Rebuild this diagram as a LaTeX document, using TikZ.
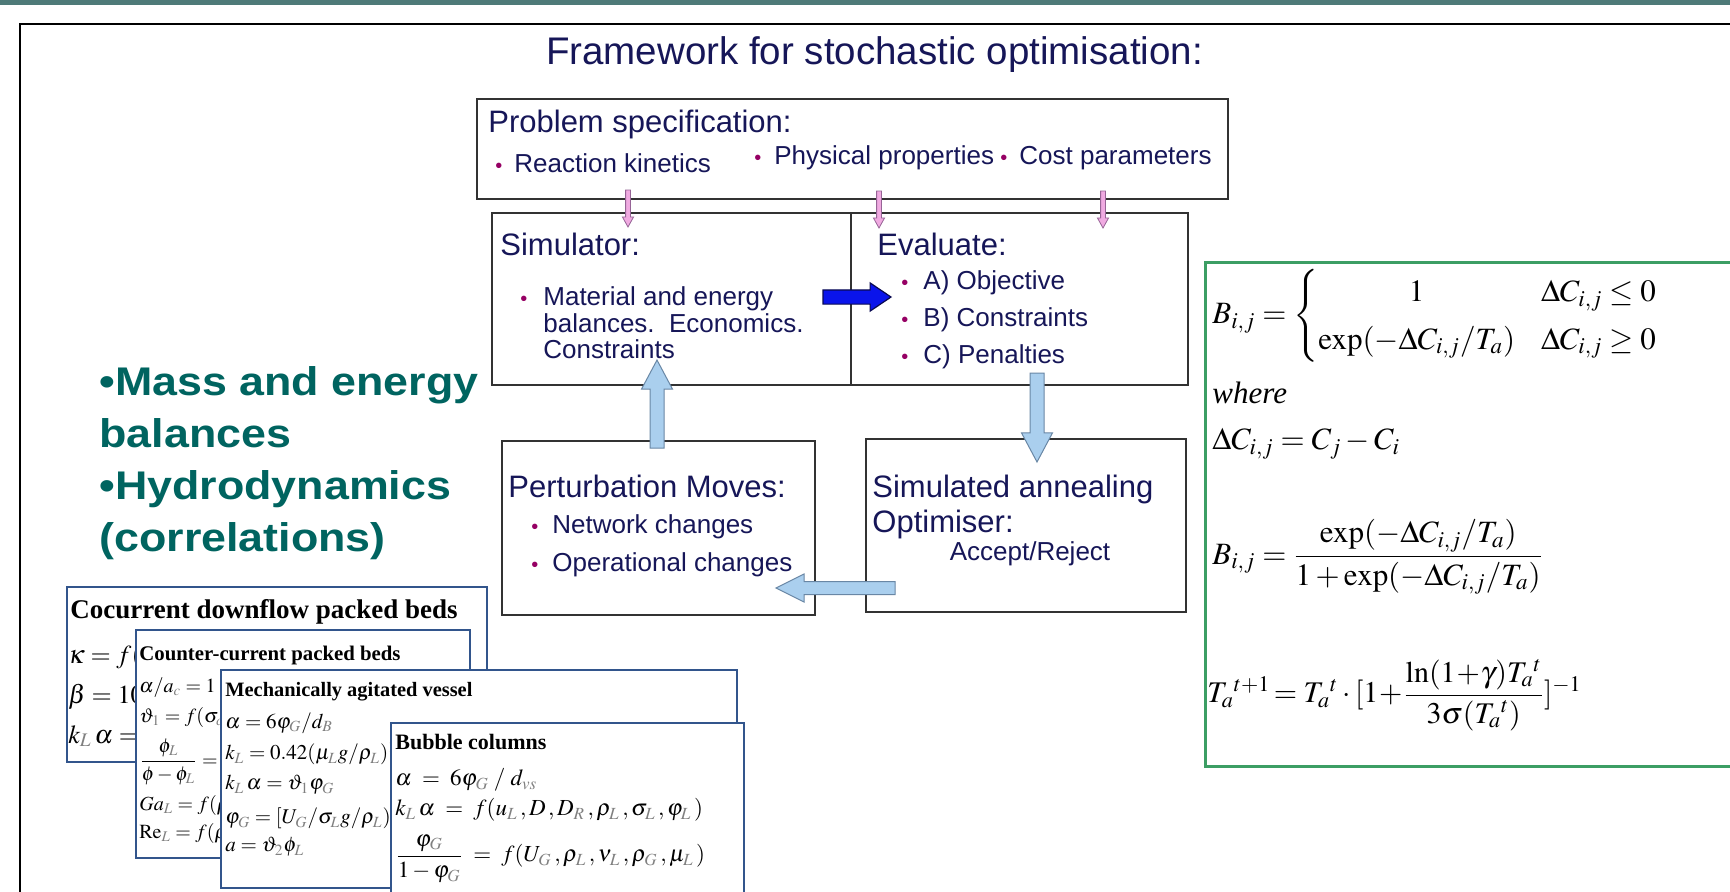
\documentclass[tikz,border=0pt]{standalone}
\usepackage{amsmath}
\usepackage{mathptmx}
\usepackage[no-math]{fontspec}
\setmainfont{Liberation Serif}
\setsansfont{Liberation Sans}
\newfontfamily\widesans{Liberation Sans}[FakeStretch=1.12]
\usepackage{xcolor}
\usetikzlibrary{shapes.arrows,calc}
\definecolor{barc}{RGB}{78,122,120}
\definecolor{navy}{RGB}{22,22,88}
\definecolor{tealc}{RGB}{0,100,96}
\definecolor{bulc}{RGB}{150,0,100}
\definecolor{greenc}{RGB}{60,158,100}
\definecolor{cardc}{RGB}{50,85,140}
\definecolor{boxc}{RGB}{50,50,50}
\definecolor{skyfill}{RGB}{170,207,238}
\definecolor{skyedge}{RGB}{105,135,165}
\definecolor{pinkfill}{RGB}{240,170,225}
\definecolor{pinkedge}{RGB}{150,100,150}
\definecolor{bluefill}{RGB}{10,20,235}
\definecolor{blueedge}{RGB}{10,10,80}
\newcommand\gs[1]{_{\color{gray}#1}}
\begin{document}
\begin{tikzpicture}[x=0.5pt,y=-0.5pt,
  flowbox/.style={draw=boxc,line width=0.8pt,fill=white,inner sep=0pt,outer sep=0pt},
  card/.style={draw=cardc,line width=1pt,fill=white,inner sep=0pt,outer sep=0pt},
  hdr/.style={font=\sffamily\fontsize{15.5}{18}\selectfont,text=navy,anchor=base west,inner sep=0pt},
  body/.style={font=\sffamily\fontsize{13}{15}\selectfont,text=navy,anchor=base west,inner sep=0pt},
  dot/.style={font=\sffamily\fontsize{10}{12}\selectfont,text=bulc,anchor=base west,inner sep=0pt},
  tealtxt/.style={font=\widesans\bfseries\fontsize{20}{24}\selectfont,text=tealc,anchor=base west,inner sep=0pt},
  gmath/.style={font=\fontsize{15.5}{19}\selectfont,anchor=west,inner sep=0pt},
  blk/.style={single arrow,anchor=tail,inner xsep=0pt,outer sep=0pt,single arrow head indent=0pt},
  skyarrow/.style={blk,draw=skyedge,fill=skyfill,line width=0.5pt,inner ysep=3.25pt,single arrow head extend=4.25pt,single arrow tip angle=56},
  pinkarrow/.style={blk,draw=pinkedge,fill=pinkfill,line width=0.4pt,inner ysep=1pt,single arrow head extend=1.6pt,single arrow tip angle=58,minimum height=18.5pt,rotate=-90}]
\useasboundingbox (0,0) rectangle (1730,891);
\fill[barc] (0,0) rectangle (1730,5);
\draw[black,line width=1.2pt] (20,900) -- (20,24) -- (1740,24);
\node[font=\sffamily\fontsize{19.25}{22}\selectfont,text=navy,anchor=base] (title) at (874.5,64) {Framework for stochastic optimisation:};
% flow chart
\node[flowbox,minimum width=375.5pt,minimum height=50pt] (prob) at (852.5,149) {};
\node[flowbox,minimum width=179.5pt,minimum height=86pt] (simu) at (671.5,299) {};
\node[flowbox,minimum width=168.5pt,minimum height=86pt] (eval) at (1019.5,299) {};
\node[flowbox,minimum width=156.5pt,minimum height=87pt] (pert) at (658.5,528) {};
\node[flowbox,minimum width=160pt,minimum height=86.5pt] (anneal) at (1026,525.5) {};
\node[hdr] (probT) at (488,132) {Problem specification:};
\node[dot] (probD1) at (495,172) {•};
\node[body] (probB1) at (514,172) {Reaction kinetics};
\node[dot] (probD2) at (754,164) {•};
\node[body] (probB2) at (774,164) {Physical properties};
\node[dot] (probD3) at (1000,164) {•};
\node[body] (probB3) at (1019,164) {Cost parameters};
\node[hdr] (simuT) at (500,255) {Simulator:};
\node[dot] (simuD) at (520,305) {•};
\node[body] (simuB1) at (543,305) {Material and energy};
\node[body] (simuB2) at (543,332) {balances.\ \ Economics.};
\node[body] (simuB3) at (543,358) {Constraints};
\node[hdr] (evalT) at (877,255) {Evaluate:};
\foreach \t [count=\i] in {A) Objective,B) Constraints,C) Penalties}{
  \node[dot] (evalD\i) at (901,252+37*\i) {•};
  \node[body] (evalB\i) at (923,252+37*\i) {\t};
}
\node[hdr] (pertT) at (508,497) {Perturbation Moves:};
\foreach \t [count=\i] in {Network changes,Operational changes}{
  \node[dot] (pertD\i) at (531,495+38*\i) {•};
  \node[body] (pertB\i) at (552,495+38*\i) {\t};
}
\node[hdr] (annT1) at (872,497) {Simulated annealing};
\node[hdr] (annT2) at (872,532) {Optimiser:};
\node[body,anchor=base] (annB) at (1030,560) {Accept/Reject};
% arrows
\node[pinkarrow] (pk1) at ($(prob.south west)+(151,-9)$) {};
\node[pinkarrow] (pk2) at ($(prob.south west)+(402,-8)$) {};
\node[pinkarrow] (pk3) at ($(prob.south west)+(626,-8)$) {};
\node[blk,draw=blueedge,fill=bluefill,line width=0.6pt,inner ysep=3.25pt,single arrow head extend=3.5pt,single arrow tip angle=68,minimum height=34pt] (toEval) at ($(simu.east)+(-28,-2)$) {};
\node[skyarrow,rotate=90,minimum height=44pt] (toSimu) at ($(pert.north)+(-1.5,7)$) {};
\node[skyarrow,rotate=-90,minimum height=44.5pt] (toAnneal) at ($(eval.south)+(17.5,-12)$) {};
\node[skyarrow,rotate=180,minimum height=59.5pt,inner ysep=3pt,single arrow head extend=3.75pt,single arrow tip angle=53] (toPert) at ($(anneal.south west)+(29,-24)$) {};
% left text
\foreach \t [count=\i] in {•Mass and energy,balances,•Hydrodynamics,(correlations)}
  \node[tealtxt] (mass\i) at (99,343+52*\i) {\t};
% formula box
\node[draw=greenc,line width=1.5pt,fill=white,inner sep=0pt,minimum width=270pt,minimum height=252pt] (formbox) at (1475,514) {};
\node[gmath] (fB1) at (1212,316) {\renewcommand\arraystretch{1.25}$B_{i,j}=\left\{\begin{array}{@{}c@{\hspace{13pt}}l@{}}1 & \Delta C_{i,j}\le 0\\ \exp(-\Delta C_{i,j}/T_a) & \Delta C_{i,j}\ge 0\end{array}\right.$};
\node[gmath] (fWhere) at (1212,393) {\textit{where}};
\node[gmath] (fDC) at (1212,444) {$\Delta C_{i,j}=C_j-C_i$};
\node[gmath] (fB2) at (1212,557) {$B_{i,j}=\dfrac{\exp(-\Delta C_{i,j}/T_a)}{1+\exp(-\Delta C_{i,j}/T_a)}$};
\node[gmath,font=\fontsize{15}{18}\selectfont] (fT) at (1207,695) {${T_a}^{t+1}\!={T_a}^{t}\cdot[1\!+\!\dfrac{\ln(1\!+\!\gamma){T_a}^{t}}{3\sigma({T_a}^{t})}]^{-1}$};
% correlation cards
\node[card,minimum width=210pt,minimum height=87.5pt] (card1) at (277,674.5) {};
\node[font=\bfseries\fontsize{13.5}{15}\selectfont,anchor=west,inner sep=0pt] (card1T) at (70,612) {Cocurrent downflow packed beds};
\node[font=\fontsize{13}{15}\selectfont,anchor=west,inner sep=0pt] (card1a) at (68,657) {$\kappa=f($};
\node[font=\fontsize{13}{15}\selectfont,anchor=west,inner sep=0pt] (card1b) at (68,697) {$\beta=10$};
\node[font=\fontsize{13}{15}\selectfont,anchor=west,inner sep=0pt] (card1c) at (68,736) {$k\gs{L}\,\alpha=$};
\node[card,minimum width=167pt,minimum height=114pt] (card2) at (303,744) {};
\node[font=\bfseries\fontsize{10.4}{12}\selectfont,anchor=west,inner sep=0pt] (card2T) at (139,655) {Counter-current packed beds};
\node[font=\fontsize{10}{12}\selectfont,anchor=west,inner sep=0pt] (card2a) at (139,688) {$\alpha/a\gs{c}=1-{}$};
\node[font=\fontsize{10}{12}\selectfont,anchor=west,inner sep=0pt] (card2b) at (139,717) {$\vartheta\gs{1}=f(\sigma\gs{c}$};
\node[font=\fontsize{10}{12}\selectfont,anchor=west,inner sep=0pt] (card2c) at (139,762) {$\dfrac{\phi\gs{L}}{\phi-\phi\gs{L}}=f$};
\node[font=\fontsize{10}{12}\selectfont,anchor=west,inner sep=0pt] (card2d) at (139,805) {$Ga\gs{L}=f(\rho$};
\node[font=\fontsize{10}{12}\selectfont,anchor=west,inner sep=0pt] (card2e) at (139,833) {$\mathrm{Re}\gs{L}=f(\rho$};
\node[card,minimum width=258pt,minimum height=109pt] (card3) at (479,779) {};
\node[font=\bfseries\fontsize{10.2}{12}\selectfont,anchor=west,inner sep=0pt] (card3T) at (225,692) {Mechanically agitated vessel};
\node[font=\fontsize{10.5}{12}\selectfont,anchor=west,inner sep=0pt] (card3a) at (225,723) {$\alpha=6\varphi\gs{G}/d\gs{B}$};
\node[font=\fontsize{10.5}{12}\selectfont,anchor=west,inner sep=0pt] (card3b) at (225,753) {$k\gs{L}=0.42(\mu\gs{L}g/\rho\gs{L})^{1/3}$};
\node[font=\fontsize{10.5}{12}\selectfont,anchor=west,inner sep=0pt] (card3c) at (225,785) {$k\gs{L}\,\alpha=\vartheta\gs{1}\varphi\gs{G}$};
\node[font=\fontsize{10.5}{12}\selectfont,anchor=west,inner sep=0pt] (card3d) at (225,817) {$\varphi\gs{G}=[U\gs{G}/\sigma\gs{L}g/\rho\gs{L})^{1/4}$};
\node[font=\fontsize{10.5}{12}\selectfont,anchor=west,inner sep=0pt] (card3e) at (225,847) {$a=\vartheta\gs{2}\phi\gs{L}$};
\node[card,minimum width=176.5pt,minimum height=88.5pt] (card4) at (567.5,811.5) {};
\node[font=\bfseries\fontsize{11}{13}\selectfont,anchor=west,inner sep=0pt] (card4T) at (395,742) {Bubble columns};
\node[font=\fontsize{11.5}{13}\selectfont,anchor=west,inner sep=0pt] (card4a) at (395,780) {$\alpha\;=\;6\varphi\gs{G}\;/\;d\gs{vs}$};
\node[font=\fontsize{11.5}{13}\selectfont,anchor=west,inner sep=0pt] (card4b) at (395,810) {$k\gs{L}\,\alpha\;=\;f(u\gs{L}\,,D\,,D\gs{R}\,,\rho\gs{L}\,,\sigma\gs{L}\,,\varphi\gs{L}\,)$};
\node[font=\fontsize{11.5}{13}\selectfont,anchor=west,inner sep=0pt] (card4c) at (395,859) {$\dfrac{\varphi\gs{G}}{1-\varphi\gs{G}}\;=\;f(U\gs{G}\,,\rho\gs{L}\,,\nu\gs{L}\,,\rho\gs{G}\,,\mu\gs{L}\,)$};
\end{tikzpicture}
\end{document}
